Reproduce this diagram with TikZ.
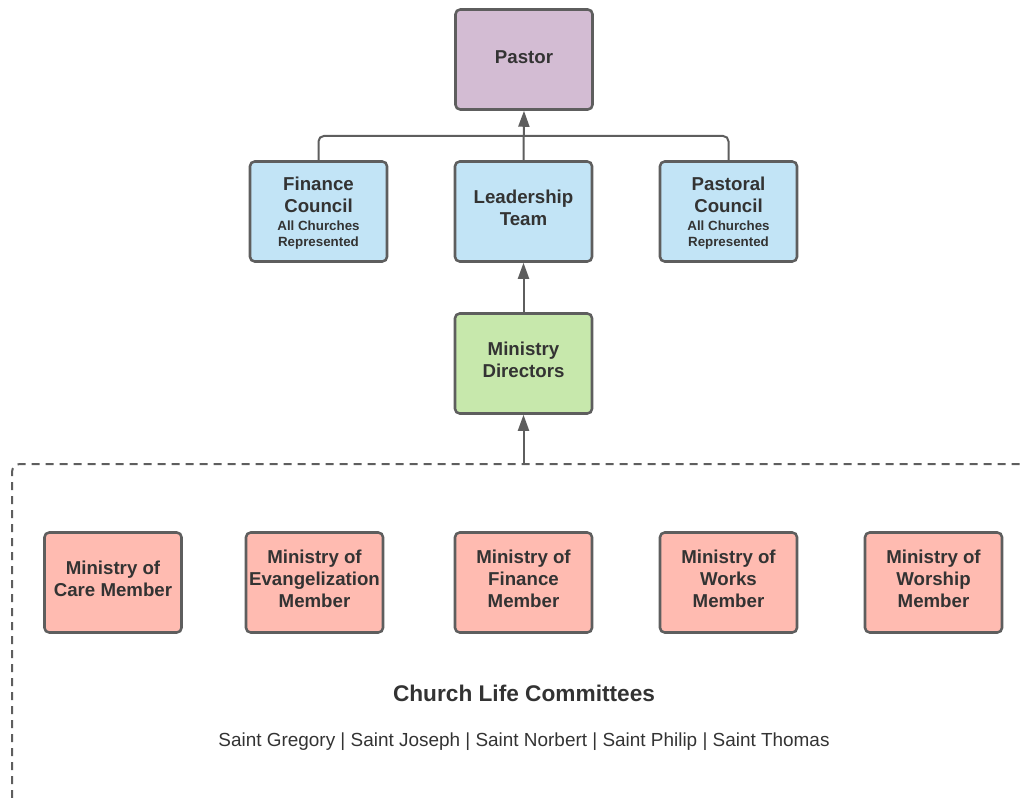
\documentclass[tikz,border=0pt]{standalone}
\usepackage{fontspec}
\setmainfont{Liberation Sans}
\usetikzlibrary{arrows.meta}
\definecolor{edge}{HTML}{5E5E5E}
\definecolor{txt}{HTML}{333333}
\definecolor{purp}{HTML}{D3BCD3}
\definecolor{blu}{HTML}{C2E4F6}
\definecolor{grn}{HTML}{C7E8AC}
\definecolor{rd}{HTML}{FFBBB1}
\newcommand{\smallf}{\fontsize{10}{12}\selectfont}
\begin{document}
\begin{tikzpicture}[x=0.75pt,y=-0.75pt,
  box/.style={draw=edge, line width=1.9pt, rounded corners=3.5pt,
    minimum width=102.75pt, minimum height=75pt, align=center, text=txt,
    font=\bfseries\fontsize{14}{16.5}\selectfont, inner sep=0pt, text depth=6pt},
  pbox/.style={box, fill=purp, text depth=3pt},
  bbox/.style={box, fill=blu},
  cbox/.style={box, fill=blu, text depth=0pt},
  gbox/.style={box, fill=grn},
  rbox/.style={box, fill=rd},
  conn/.style={draw=edge, line width=1.5pt, -{Triangle[length=12pt,width=8.25pt]}},
  link/.style={draw=edge, line width=1.5pt, rounded corners=4pt},
  groupline/.style={draw=edge, line width=1.5pt, dash pattern=on 6pt off 4.5pt, rounded corners=6pt},
  title/.style={text=txt, font=\bfseries\fontsize{17}{20}\selectfont, inner sep=0pt},
  sub/.style={text=txt, font=\fontsize{14.2}{17}\selectfont, inner sep=0pt}]
\useasboundingbox (0,0) rectangle (1024,798);

\node[pbox] (pastor) at (524,59.5) {Pastor};
\node[cbox] (fin) at (318.5,211.5) {Finance\\Council\\[-3pt]\smallf All Churches\\[-4.5pt]\smallf Represented};
\node[bbox] (lead) at (523.5,211.5) {Leadership\\Team};
\node[cbox] (past) at (728.5,211.5) {Pastoral\\Council\\[-3pt]\smallf All Churches\\[-4.5pt]\smallf Represented};
\node[gbox] (dir) at (523.5,363.5) {Ministry\\Directors};

\node[rbox] (care) at (113,582.5) {Ministry of\\Care Member};
\node[rbox] (evan) at (314.5,582.5) {Ministry of\\Evangelization\\Member};
\node[rbox] (finm) at (523.5,582.5) {Ministry of\\Finance\\Member};
\node[rbox] (works) at (728.5,582.5) {Ministry of\\Works\\Member};
\node[rbox] (wors) at (933.5,582.5) {Ministry of\\Worship\\Member};

\node[title] (clc) at (524,693) {Church Life Committees};
\node[sub] (saints) at (524,742) {Saint Gregory | Saint Joseph | Saint Norbert | Saint Philip | Saint Thomas};

\coordinate (j) at (523.5,136);
\draw[link] (fin.north) |- (j) -| (past.north);
\draw[conn] (lead.north) -- (pastor.south);
\draw[conn] (dir.north) -- (lead.south);

\coordinate (gbl) at (12,798);
\coordinate (gtr) at (1024,464);
\coordinate (gtop) at (523.5,464);
\draw[groupline] (gbl) |- (gtr);
\draw[conn] (gtop) -- (dir.south);
\end{tikzpicture}
\end{document}
